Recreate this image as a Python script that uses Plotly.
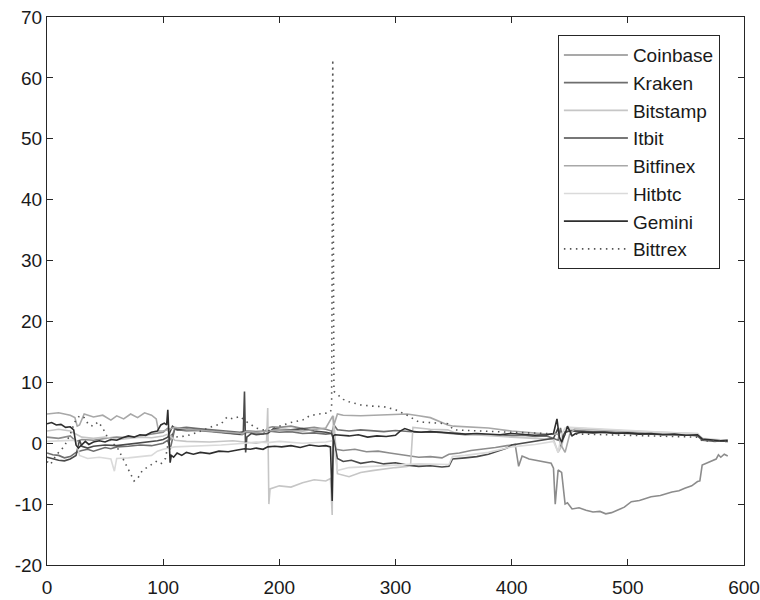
import plotly.graph_objects as go

# ---------------- data ----------------
coinbase_x = [0, 10, 20, 25, 30, 40, 50, 60, 70, 80, 90, 95, 100, 104, 106, 110, 120, 130, 140, 150, 160, 168, 172, 180, 186, 190, 194, 200, 210, 220, 230, 240, 245, 247, 249, 255, 265, 275, 285, 295, 305, 315, 320, 330, 340, 346, 355, 365, 375, 386, 396, 403, 406, 409, 415, 425, 434, 436, 437.5, 440, 443, 446, 448, 452, 458, 464, 470, 476, 481, 486, 492, 497, 503, 510, 520, 528, 538, 544, 549, 555, 560, 562, 564, 568, 572, 576, 578, 580, 583, 586]
coinbase_y = [1.0, 0.8, 1.2, 0.3, 0.6, 0.5, 0.8, 1.0, 0.9, 1.2, 1.4, 1.6, 1.8, 2.5, 0.5, 2.3, 2.0, 2.1, 1.9, 1.7, 1.5, 1.4, 1.8, 1.6, 1.5, 2.5, 2.7, 2.6, 2.8, 2.4, 2.6, 2.3, 2.0, 0.0, -1.0, -1.2, -1.0, -1.4, -1.3, -1.6, -1.9, -2.2, -2.3, -2.2, -2.4, -1.8, -1.6, -1.2, -1.0, -0.7, -0.4, -0.2, -3.8, -2.1, -2.6, -3.0, -3.3, -4.1, -10.0, -4.4, -4.8, -10.0, -9.8, -10.8, -10.6, -11.0, -11.3, -11.2, -11.6, -11.4, -10.9, -10.5, -9.6, -9.4, -8.8, -8.6, -8.0, -7.8, -7.4, -7.0, -6.3, -6.2, -3.6, -3.3, -3.0, -2.6, -1.9, -2.3, -1.8, -2.1]

kraken_x = [0, 5, 10, 15, 20, 25, 30, 35, 40, 45, 50, 55, 60, 70, 80, 90, 95, 100, 104, 106, 110, 120, 130, 140, 150, 160, 166, 172, 180, 190, 200, 210, 220, 230, 240, 245, 247, 250, 260, 270, 280, 290, 300, 310, 320, 330, 340, 350, 360, 370, 380, 390, 400, 410, 420, 430, 440, 442, 444, 446, 450, 460, 470, 480, 490, 500, 510, 520, 530, 540, 550, 560, 564, 570, 575, 580, 586]
kraken_y = [-1.6, -1.9, -2.0, -2.4, -2.2, -1.5, -1.2, -1.0, -1.3, -1.0, -0.7, -0.9, -0.6, -0.5, -0.3, -0.4, -0.2, 0.0, 0.5, -1.0, 2.4, 2.6, 2.4, 2.2, 2.0, 1.9, 1.8, 2.0, 1.9, 2.0, 1.8, 1.9, 1.6, 1.7, 1.5, 1.6, 3.0, 2.2, 2.0, 2.2, 2.0, 1.9, 2.1, 2.0, 1.8, 1.9, 1.7, 1.5, 1.4, 1.5, 1.3, 1.4, 1.2, 1.3, 1.1, 1.2, 0.5, 2.5, 0.8, 1.9, 2.0, 2.1, 1.9, 2.0, 1.8, 1.9, 1.7, 1.8, 1.6, 1.5, 1.4, 1.2, 0.5, 0.4, 0.3, 0.4, 0.3]

bitstamp_x = [0, 10, 20, 25, 30, 40, 50, 60, 70, 80, 90, 100, 104, 110, 120, 140, 160, 180, 189, 190, 191, 192, 200, 210, 220, 230, 240, 244, 245.5, 246.5, 248, 250, 260, 270, 280, 290, 300, 310, 313, 315, 320, 330, 345, 350, 360, 380, 400, 420, 436, 440, 443, 446, 450, 470, 500, 530, 560, 564, 575, 586]
bitstamp_y = [2.0, 2.3, 2.0, 1.5, 1.0, 0.8, 1.0, 0.6, 0.8, 1.0, 0.9, 1.2, 1.5, 0.5, 0.3, 0.2, 0.4, 0.0, 0.3, 5.8, -10.0, -7.5, -7.0, -7.2, -6.5, -6.0, -6.2, -5.8, -11.8, 4.5, 1.0, -5.0, -5.5, -4.8, -4.5, -4.2, -4.0, -3.8, -3.5, 2.6, 2.5, 2.3, 2.2, 1.8, 1.5, 1.2, 1.0, 0.8, 0.6, -1.5, -0.5, 1.8, 2.3, 2.2, 2.0, 1.8, 1.6, 0.7, 0.5, 0.4]

itbit_x = [0, 5, 10, 15, 20, 25, 28, 30, 35, 40, 50, 60, 70, 80, 90, 95, 100, 104, 108, 112, 120, 130, 140, 150, 160, 166, 169, 170, 171, 172, 176, 180, 190, 195, 200, 210, 220, 230, 240, 245, 247, 250, 255, 262, 270, 280, 290, 300, 310, 320, 330, 340, 346, 349, 360, 370, 380, 390, 396, 400, 410, 420, 430, 436, 440, 442, 444, 446, 450, 460, 480, 500, 520, 540, 560, 564, 575, 586]
itbit_y = [-2.3, -2.6, -2.8, -2.9, -2.6, -2.0, 0.5, -0.5, -0.8, -0.5, -0.3, -0.4, -0.2, 0.0, 0.2, 0.4, 0.6, 1.0, 2.8, 2.2, 2.3, 2.2, 2.0, 1.8, 1.6, 1.5, 1.8, 8.5, -1.5, 1.0, 1.6, 1.4, 1.6, 2.4, 2.3, 2.2, 2.4, 2.0, 1.8, 1.6, 0.5, -2.5, -3.0, -2.8, -3.3, -3.0, -3.4, -3.2, -3.6, -3.8, -3.7, -3.9, -3.8, -2.6, -2.4, -2.2, -1.8, -1.2, -0.8, -0.3, 0.0, 0.2, 0.5, 0.8, 2.5, -0.5, 1.0, 1.8, 2.0, 1.9, 1.7, 1.6, 1.5, 1.4, 1.3, 0.6, 0.4, 0.3]

bitfinex_x = [0, 10, 20, 24, 26, 28, 32, 40, 48, 55, 60, 66, 72, 78, 84, 90, 94, 96, 100, 104, 110, 120, 140, 160, 168, 172, 180, 190, 200, 220, 240, 246, 247, 250, 255, 270, 290, 310, 320, 330, 345, 350, 380, 400, 430, 440, 443, 446, 450, 455, 480, 520, 560, 566, 586]
bitfinex_y = [4.8, 5.0, 4.6, 4.2, 2.8, 3.0, 4.8, 4.3, 4.6, 3.8, 4.5, 4.0, 4.8, 4.2, 5.0, 4.6, 4.0, 2.0, 2.0, 2.2, 2.6, 2.3, 2.0, 1.8, 1.6, 2.0, 1.8, 2.0, 2.2, 2.0, 2.5, 4.5, 3.0, 4.8, 4.6, 4.5, 4.6, 4.8, 4.5, 4.2, 3.0, 2.8, 2.5, 2.0, 1.5, 1.5, -0.5, -1.5, 1.5, 2.5, 2.2, 1.8, 1.4, 0.6, 0.5]

hitbtc_x = [0, 10, 20, 25, 28, 35, 45, 55, 58, 60, 70, 80, 90, 95, 100, 110, 130, 150, 170, 180, 190, 200, 220, 240, 246, 250, 260, 280, 300, 320, 346, 349, 360, 380, 400, 420, 436, 440, 443, 446, 450, 470, 500, 530, 560, 564, 586]
hitbtc_y = [0.3, 0.4, 0.5, 0.5, -2.0, -2.5, -2.3, -2.6, -4.6, -2.5, -2.4, -2.2, -2.0, -1.3, -1.0, -0.6, -0.5, -0.3, 0.0, 0.2, 0.1, 0.3, 0.0, 0.2, 0.4, -4.5, -4.0, -3.8, -3.5, -3.4, -3.5, -2.2, -2.0, -1.5, -0.6, -0.2, 0.3, -1.5, 1.5, 2.5, 2.6, 2.4, 2.0, 1.8, 1.5, 0.8, 0.5]

gemini_x = [0, 4, 8, 12, 16, 20, 23, 25, 27, 30, 33, 36, 40, 45, 50, 55, 60, 65, 70, 75, 80, 85, 90, 95, 98, 101, 103, 104, 105, 106, 107, 109, 112, 116, 120, 126, 132, 140, 148, 156, 164, 170, 175, 180, 186, 190, 196, 202, 210, 218, 226, 234, 240, 244, 245.5, 246.5, 248, 254, 260, 268, 276, 284, 292, 300, 304, 308, 312, 316, 322, 330, 340, 350, 360, 370, 380, 390, 400, 410, 420, 430, 436, 439, 441, 443, 446, 448, 450, 452, 455, 460, 470, 480, 490, 500, 510, 520, 530, 540, 550, 560, 564, 568, 575, 580, 586]
gemini_y = [3.2, 3.4, 3.0, 3.1, 2.6, 2.7, 2.2, -0.3, -0.8, -0.2, 0.3, -0.2, 0.2, 0.4, 0.2, 0.6, 0.5, 0.9, 1.2, 1.0, 1.4, 1.3, 1.8, 2.0, 3.0, 3.3, 3.0, 5.5, 0.0, -3.2, -2.0, -2.3, -1.6, -2.0, -1.5, -1.8, -1.5, -1.7, -1.3, -1.4, -1.1, -0.9, -1.0, -0.8, -1.0, -0.6, -0.5, -0.6, -0.4, -0.7, -0.3, -0.5, -0.4, -0.6, -9.5, 1.2, 1.4, 1.3, 1.2, 1.4, 1.0, 1.2, 1.1, 1.3, 2.0, 2.4, 2.2, 1.9, 1.8, 1.9, 1.8, 1.7, 1.5, 1.6, 1.5, 1.4, 1.6, 1.5, 1.3, 1.4, 1.6, 4.0, 1.0, 0.2, 1.5, 2.8, 2.0, 1.2, 1.6, 1.8, 1.7, 1.8, 1.6, 1.7, 1.5, 1.6, 1.4, 1.5, 1.3, 1.4, 0.7, 0.6, 0.5, 0.4, 0.5]

bittrex_x = [0, 3, 6, 10, 15, 20, 24, 28, 32, 36, 40, 44, 48, 52, 56, 60, 64, 68, 72, 75, 78, 82, 86, 90, 94, 98, 102, 106, 110, 120, 130, 140, 150, 155, 160, 166, 172, 180, 190, 200, 210, 220, 226, 234, 243, 245, 246, 247, 250, 255, 260, 270, 280, 290, 300, 310, 320, 330, 345, 350, 370, 400, 430, 445, 460, 500, 530, 560, 564, 586]
bittrex_y = [-3.0, -3.5, -2.5, -1.5, -0.5, 1.5, 3.5, 4.5, 4.2, 3.0, 2.8, 3.5, 2.5, 1.0, 0.0, -0.5, -2.0, -3.5, -5.0, -6.2, -5.8, -4.5, -4.0, -3.5, -3.0, -3.4, -2.5, 1.8, 1.0, 1.2, 1.8, 2.6, 3.2, 4.3, 4.0, 4.4, 3.5, 2.5, 2.0, 2.8, 3.4, 3.8, 4.5, 4.8, 5.0, 5.5, 63.0, 8.5, 8.0, 7.2, 6.8, 6.3, 6.1, 6.0, 5.5, 4.6, 3.5, 3.4, 3.2, 2.2, 2.0, 1.8, 1.6, 1.4, 1.5, 1.3, 1.1, 1.0, 0.4, 0.3]

x_ticks = [0, 100, 200, 300, 400, 500, 600]
y_ticks = [-20, -10, 0, 10, 20, 30, 40, 50, 60, 70]

series = [
    ("Coinbase", coinbase_x, coinbase_y, "#8c8c8c", "solid"),
    ("Kraken", kraken_x, kraken_y, "#6e6e6e", "solid"),
    ("Bitstamp", bitstamp_x, bitstamp_y, "#c6c6c6", "solid"),
    ("Itbit", itbit_x, itbit_y, "#4a4a4a", "solid"),
    ("Bitfinex", bitfinex_x, bitfinex_y, "#a8a8a8", "solid"),
    ("Hitbtc", hitbtc_x, hitbtc_y, "#dadada", "solid"),
    ("Gemini", gemini_x, gemini_y, "#2e2e2e", "solid"),
    ("Bittrex", bittrex_x, bittrex_y, "#555555", "1.5px,4.5px"),
]

fig = go.Figure()
for name, xs, ys, color, dash in series:
    fig.add_trace(go.Scatter(
        x=xs, y=ys, mode="lines", name=name, legendgroup=name,
        line=dict(color=color, width=1.6, dash=dash),
    ))

FONT = "Liberation Sans, Arial, Helvetica, sans-serif"
axis_common = dict(
    showline=True, linecolor="#262626", linewidth=1, mirror="allticks",
    ticks="inside", ticklen=6, tickcolor="#262626", tickwidth=1,
    showgrid=False, zeroline=False, ticklabeloverflow="allow", automargin=False,
    tickfont=dict(family=FONT, size=19, color="#1a1a1a"),
)

fig.update_layout(
    width=760, height=600,
    margin=dict(l=47, r=16, t=17, b=35),
    plot_bgcolor="white", paper_bgcolor="white",
    font=dict(family=FONT, size=19, color="#1a1a1a"),
    xaxis=dict(range=[0, 600], tickvals=x_ticks, ticktext=[str(v) for v in x_ticks],
               ticklabelstandoff=5, **axis_common),
    yaxis=dict(range=[-20, 70], tickvals=y_ticks, ticktext=[str(v) for v in y_ticks],
               **axis_common),
    legend=dict(
        x=0.733, y=0.967, xanchor="left", yanchor="top",
        bgcolor="white", bordercolor="#262626", borderwidth=1,
        font=dict(family=FONT, size=19), tracegroupgap=0, itemwidth=64,
        traceorder="normal",
    ),
    showlegend=True,
)

fig.write_html("out.html", config={"displayModeBar": False},
               post_script="document.body.style.margin='0';")
